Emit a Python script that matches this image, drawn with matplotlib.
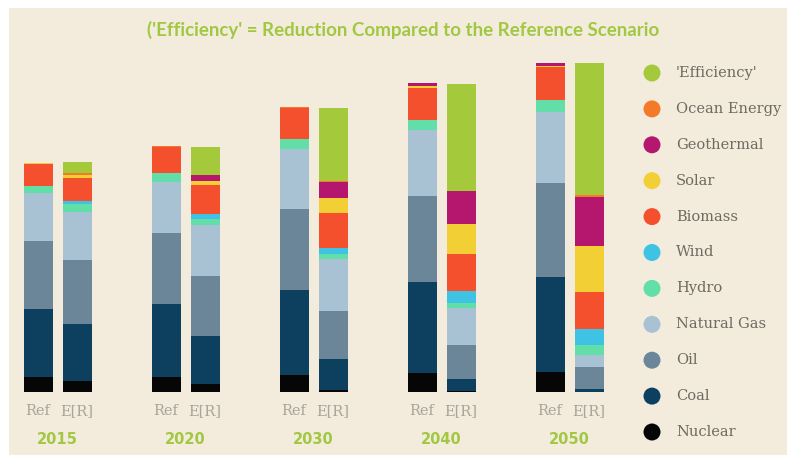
import matplotlib
matplotlib.use("Agg")
import matplotlib.pyplot as plt
from matplotlib.patches import Circle, Rectangle

# Energy supply by source, Reference (Ref) vs Energy [R]evolution (E[R]) scenario
years = ["2015", "2020", "2030", "2040", "2050"]
scenarios = ["Ref", "E[R]"]

# values per bar, ordered 2015 Ref, 2015 E[R], 2020 Ref, 2020 E[R], ...
nuclear     = [15, 11, 15,  8, 17,  2, 19,   1, 20,   0]
coal        = [68, 57, 73, 48, 85, 31, 91,  12, 95,   3]
oil         = [68, 64, 71, 60, 81, 48, 86,  34, 94,  22]
natural_gas = [48, 48, 51, 51, 60, 52, 66,  37, 71,  12]
hydro       = [ 7,  8,  9,  6, 10,  5, 10,   5, 12,  10]
wind        = [ 0,  3,  0,  5,  0,  6,  0,  12,  0,  16]
biomass     = [22, 23, 26, 29, 31, 35, 32,  37, 33,  37]
solar       = [ 1,  3,  0,  4,  0, 15,  2,  30,  1,  46]
geothermal  = [ 0,  0,  0,  6,  0, 16,  3,  33,  3,  49]
ocean       = [ 0,  2,  1,  0,  1,  1,  0,   0,  0,   2]
efficiency  = [ 0, 11,  0, 28,  0, 73,  0, 107,  0, 132]

# stacking order, bottom to top
series = [
    ("Nuclear", nuclear, "#060606"),
    ("Coal", coal, "#0d3f5e"),
    ("Oil", oil, "#6b8699"),
    ("Natural Gas", natural_gas, "#a8c2d3"),
    ("Hydro", hydro, "#62dfa8"),
    ("Wind", wind, "#3ec3e4"),
    ("Biomass", biomass, "#f5502e"),
    ("Solar", solar, "#f3cf36"),
    ("Geothermal", geothermal, "#b5176f"),
    ("Ocean Energy", ocean, "#f47a2a"),
    ("'Efficiency'", efficiency, "#a4c93b"),
]

BG = "#f3ecdd"
GREEN = "#a2c843"
GREY = "#a9a49b"

W, H = 787, 455
fig = plt.figure(figsize=(W / 100, H / 100), dpi=100)
fig.patch.set_facecolor("white")
# cream panel (thin white margin at top and left)
fig.add_artist(Rectangle((9 / W, 0), 1, (H - 8) / H, transform=fig.transFigure,
                         facecolor=BG, edgecolor="none", zorder=0))

# chart axes: baseline at 392 px from the top, one unit = one pixel vertically
base_px, top_px = 392, 55
group_px0, group_step = 57.5, 128.0
ax = fig.add_axes([0, (H - base_px) / H, 1, (base_px - top_px) / H])
ax.set_facecolor("none")
ax.set_ylim(0, base_px - top_px)
ax.set_xlim(-group_px0 / group_step, (W - group_px0) / group_step)
ax.axis("off")

bar_w = 29 / group_step
offset = 19.5 / group_step
xpos = []
for gi in range(len(years)):
    for si in range(len(scenarios)):
        xpos.append(gi + (-offset if si == 0 else offset))

bottom = [0] * len(xpos)
for name, vals, col in series:
    ax.bar(xpos, vals, width=bar_w, bottom=bottom, color=col, edgecolor="none",
           linewidth=0)
    bottom = [b + v for b, v in zip(bottom, vals)]

# category labels below the bars
for i, x in enumerate(xpos):
    ax.text(x, -19, scenarios[i % 2], ha="center", va="center", color=GREY,
            fontsize=10.5, family="DejaVu Serif")
for gi, y in enumerate(years):
    ax.text(gi, -48, y, ha="center", va="center", color=GREEN, fontsize=10.5,
            fontweight="bold", family="DejaVu Sans")

# title
fig.text(403 / W, 1 - 30 / H,
         "('Efficiency' = Reduction Compared to the Reference Scenario",
         ha="center", va="center", color=GREEN, fontsize=13.5, fontweight="bold",
         family="Lato")

# legend, top entry is the top of the stack
lax = fig.add_axes([0, 0, 1, 1])
lax.set_xlim(0, W)
lax.set_ylim(H, 0)
lax.axis("off")
for k, (name, vals, col) in enumerate(reversed(series)):
    yc = 73 + k * 35.9
    lax.add_patch(Circle((652, yc), 8.5, facecolor=col, edgecolor="none"))
    lax.text(676, yc, name, ha="left", va="center", color="#6f6a61",
             fontsize=10.5, family="DejaVu Serif")

fig.savefig("out.png", dpi=100, facecolor=fig.get_facecolor())
